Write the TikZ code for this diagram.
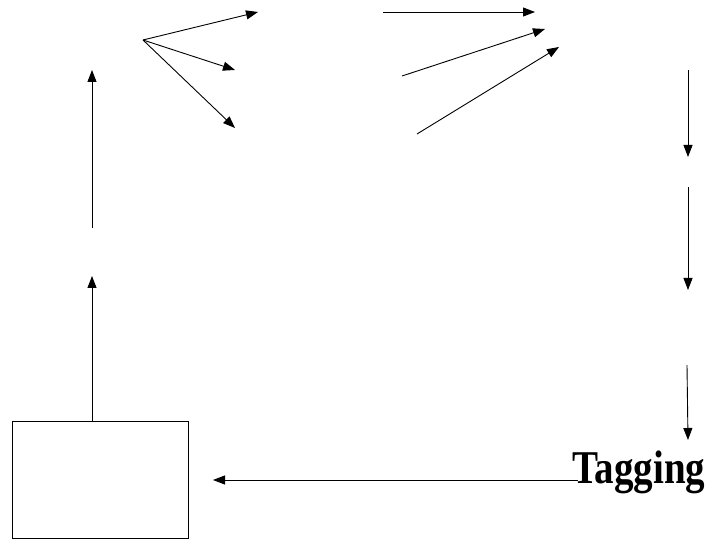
\documentclass[tikz,border=0pt]{standalone}
\usepackage{fontspec}
\usepackage{graphicx}
\setmainfont{Liberation Serif}
\usetikzlibrary{arrows.meta}
\begin{document}
\begin{tikzpicture}[x=1pt,y=-1pt,
  flow/.style={draw=black,line width=0.9pt,-{Triangle[length=12pt,width=9pt]}},
  blockbox/.style={draw=black,line width=0.9pt,minimum width=176pt,minimum height=117pt,inner sep=0pt},
  tag/.style={font=\fontsize{47}{50}\selectfont\bfseries,inner sep=0pt,anchor=base west}]
  \useasboundingbox (0,0) rectangle (710,540);

  % lower-left block and the tagging label (condensed bold serif)
  \node[blockbox] (block) at (100,479.5) {};
  \node[tag] (tagging) at (572,483) {\scalebox{0.83}[1]{Tagging}};

  % left column
  \coordinate (blocktop) at (92,421);
  \coordinate (l1tip) at (92,276);
  \coordinate (l2start) at (92,228);
  \coordinate (l2tip) at (92,70);

  % fan-out from the top-left point
  \coordinate (fan) at (143,40);
  \coordinate (f1) at (258,12);
  \coordinate (f2) at (235,70);
  \coordinate (f3) at (235,128);

  % converging arrows at the top
  \coordinate (c1s) at (383,12);
  \coordinate (c1e) at (535,12);
  \coordinate (c2s) at (402,76);
  \coordinate (c2e) at (545,29);
  \coordinate (c3s) at (417,134);
  \coordinate (c3e) at (559,47);

  % right column
  \coordinate (r1s) at (688,70);
  \coordinate (r1e) at (688,157);
  \coordinate (r2s) at (688,187);
  \coordinate (r2e) at (688,290);
  \coordinate (r3s) at (687,365);
  \coordinate (r3e) at (688,440);

  % return arrow into the block
  \coordinate (backstart) at (578,480);
  \coordinate (backend) at (213,480);

  \draw[flow] (blocktop) -- (l1tip);
  \draw[flow] (l2start) -- (l2tip);
  \draw[flow] (fan) -- (f1);
  \draw[flow] (fan) -- (f2);
  \draw[flow] (fan) -- (f3);
  \draw[flow] (c1s) -- (c1e);
  \draw[flow] (c2s) -- (c2e);
  \draw[flow] (c3s) -- (c3e);
  \draw[flow] (r1s) -- (r1e);
  \draw[flow] (r2s) -- (r2e);
  \draw[flow] (r3s) -- (r3e);
  \draw[flow] (backstart) -- (backend);
\end{tikzpicture}
\end{document}
